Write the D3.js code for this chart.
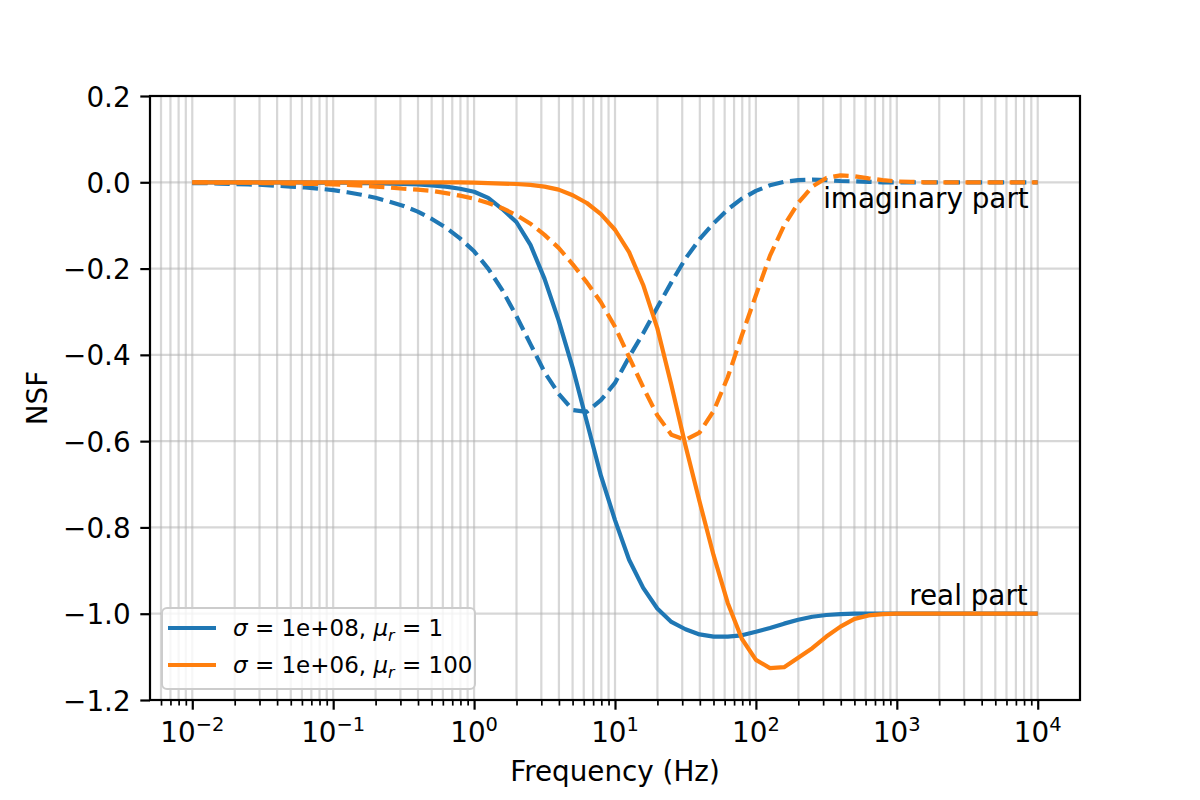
<!DOCTYPE html>
<html>
<head>
<meta charset="utf-8">
<script src="https://cdn.jsdelivr.net/npm/d3@7"></script>
<style>
  body { margin: 0; background: #fff; }
  svg { font-family: "DejaVu Sans", sans-serif; }
</style>
</head>
<body>
<div id="chart"></div>
<script>
// frequency samples, log10(Hz)
const logFreq = [
  -2.0, -1.9, -1.8, -1.7, -1.6, -1.5, -1.4, -1.3, -1.2, -1.1, -1.0,
  -0.9, -0.8, -0.7, -0.6, -0.5, -0.4, -0.3, -0.2, -0.1, 0.0,
  0.1, 0.2, 0.3, 0.4, 0.5, 0.6, 0.7, 0.8, 0.9, 1.0,
  1.1, 1.2, 1.3, 1.4, 1.5, 1.6, 1.7, 1.8, 1.9, 2.0,
  2.1, 2.2, 2.3, 2.4, 2.5, 2.6,
  2.7, 2.8, 2.9, 3.0, 3.1, 3.2, 3.3, 3.4, 3.5, 3.6, 3.7, 3.8, 3.9, 4.0
];

// sigma = 1e8, mu_r = 1
const realA = [
  0, 0, 0, 0, 0, 0, 0, 0, 0, -0.001, -0.001,
  -0.001, -0.002, -0.002, -0.003, -0.004, -0.005, -0.007, -0.01, -0.015, -0.022,
  -0.036, -0.062, -0.092, -0.145, -0.224, -0.32, -0.43, -0.555, -0.68, -0.783,
  -0.875, -0.94, -0.988, -1.019, -1.036, -1.048, -1.053, -1.053, -1.05, -1.042,
  -1.033, -1.023, -1.014, -1.007, -1.003, -1.001,
  -1, -1, -1, -1, -1, -1, -1, -1, -1, -1, -1, -1, -1, -1
];
const imagA = [
  -0.002, -0.002, -0.003, -0.004, -0.005, -0.006, -0.008, -0.01, -0.012, -0.015, -0.018,
  -0.023, -0.029, -0.036, -0.045, -0.055, -0.068, -0.085, -0.105, -0.13, -0.16,
  -0.2, -0.25, -0.31, -0.375, -0.44, -0.49, -0.528, -0.532, -0.505, -0.465,
  -0.405, -0.35, -0.29, -0.232, -0.177, -0.132, -0.095, -0.063, -0.038, -0.02,
  -0.007, 0.001, 0.005, 0.006, 0.005, 0.003,
  0.002, 0.001, 0, 0, 0, 0, 0, 0, 0, 0, 0, 0, 0, 0
];

// sigma = 1e6, mu_r = 100
const realB = [
  0, 0, 0, 0, 0, 0, 0, 0, 0, 0, 0,
  0, 0, 0, 0, 0, 0, 0, 0, 0, -0.001,
  -0.002, -0.003, -0.004, -0.006, -0.01, -0.017, -0.03, -0.048, -0.074, -0.11,
  -0.162, -0.238, -0.338, -0.47, -0.61, -0.74, -0.865, -0.975, -1.058, -1.107,
  -1.126, -1.124, -1.102, -1.08, -1.053, -1.03,
  -1.012, -1.004, -1.001, -1, -1, -1, -1, -1, -1, -1, -1, -1, -1, -1
];
const imagB = [
  0, 0, -0.001, -0.001, -0.001, -0.002, -0.002, -0.003, -0.004, -0.004, -0.005,
  -0.006, -0.008, -0.01, -0.012, -0.015, -0.017, -0.02, -0.025, -0.031, -0.038,
  -0.048, -0.06, -0.076, -0.096, -0.122, -0.152, -0.19, -0.232, -0.278, -0.335,
  -0.405, -0.475, -0.54, -0.585, -0.597, -0.58, -0.53, -0.452, -0.355, -0.262,
  -0.17, -0.1, -0.048, -0.01, 0.01, 0.016,
  0.014, 0.009, 0.005, 0.002, 0.001, 0, 0, 0, 0, 0, 0, 0, 0, 0
];

const legendLabels = [
  { sigma: "1e+08", mu: "1" },
  { sigma: "1e+06", mu: "100" }
];
const xMajorExp = [-2, -1, 0, 1, 2, 3, 4];
const yTicks = [-1.2, -1.0, -0.8, -0.6, -0.4, -0.2, 0.0, 0.2];

const colors = ["#1f77b4", "#ff7f0e"];
const series = [
  { values: realA, color: colors[0], dash: null },
  { values: imagA, color: colors[0], dash: "15.4,6.7" },
  { values: realB, color: colors[1], dash: null },
  { values: imagB, color: colors[1], dash: "15.4,6.7" }
];

(() => {
  const width = 1200, height = 800;
  const margin = { left: 150, right: 120, top: 96, bottom: 100 };
  const fontSize = 27.8;

  const svg = d3.select("#chart").append("svg")
    .attr("width", width)
    .attr("height", height)
    .attr("viewBox", [0, 0, width, height]);
  svg.append("rect").attr("width", width).attr("height", height).attr("fill", "#fff");

  const x = d3.scaleLog()
    .domain([Math.pow(10, -2.3), Math.pow(10, 4.3)])
    .range([margin.left, width - margin.right]);
  const y = d3.scaleLinear()
    .domain([-1.2, 0.2])
    .range([height - margin.bottom, margin.top]);

  const xMajor = xMajorExp.map(e => Math.pow(10, e));
  // minor ticks 2..9 x 10^k that fall inside the domain
  const xMinor = [];
  for (let k = -3; k <= 4; k++) {
    for (let m = 2; m <= 9; m++) {
      const v = m * Math.pow(10, k);
      if (v >= x.domain()[0] && v <= x.domain()[1]) xMinor.push(v);
    }
  }

  // grid
  const grid = svg.append("g").attr("id", "grid")
    .attr("stroke", "#b0b0b0")
    .attr("stroke-opacity", 0.5)
    .attr("stroke-width", 2.2);
  grid.selectAll("line.gx")
    .data(xMajor.concat(xMinor))
    .enter().append("line")
    .attr("class", "gx")
    .attr("x1", d => x(d)).attr("x2", d => x(d))
    .attr("y1", y.range()[0]).attr("y2", y.range()[1]);
  grid.selectAll("line.gy")
    .data(yTicks)
    .enter().append("line")
    .attr("class", "gy")
    .attr("x1", x.range()[0]).attr("x2", x.range()[1])
    .attr("y1", d => y(d)).attr("y2", d => y(d));

  // curves
  const line = d3.line()
    .x((d, i) => x(Math.pow(10, logFreq[i])))
    .y(d => y(d));
  svg.append("g").attr("id", "lines")
    .selectAll("path")
    .data(series)
    .enter().append("path")
    .attr("d", d => line(d.values))
    .attr("fill", "none")
    .attr("stroke", d => d.color)
    .attr("stroke-width", 4.2)
    .attr("stroke-linejoin", "round")
    .attr("stroke-dasharray", d => d.dash);

  // annotations
  svg.append("text")
    .attr("x", x(Math.pow(10, 4)) - 9)
    .attr("y", 208)
    .attr("text-anchor", "end")
    .attr("font-size", fontSize)
    .text("imaginary part");
  svg.append("text")
    .attr("x", x(Math.pow(10, 4)) - 10)
    .attr("y", 605)
    .attr("text-anchor", "end")
    .attr("font-size", fontSize)
    .text("real part");

  // axes
  const xAxisG = svg.append("g")
    .attr("transform", `translate(0,${y.range()[0]})`);
  xAxisG.append("g")
    .call(d3.axisBottom(x).tickValues(xMinor).tickSize(5.6).tickFormat(""))
    .call(g => g.select(".domain").remove())
    .call(g => g.selectAll(".tick line").attr("stroke-width", 1.7));
  xAxisG.append("g")
    .call(d3.axisBottom(x).tickValues(xMajor).tickSize(9.7).tickFormat(""))
    .call(g => g.select(".domain").remove())
    .call(g => g.selectAll(".tick line").attr("stroke-width", 2.2));

  const xLabels = xAxisG.append("g").selectAll("text")
    .data(xMajorExp)
    .enter().append("text")
    .attr("x", d => x(Math.pow(10, d)))
    .attr("y", 42)
    .attr("text-anchor", "middle")
    .attr("font-size", fontSize);
  xLabels.append("tspan").text("10");
  xLabels.append("tspan")
    .attr("font-size", fontSize * 0.7)
    .attr("dy", -11)
    .text(d => d < 0 ? "\u2212" + Math.abs(d) : String(d));

  svg.append("g")
    .attr("transform", `translate(${x.range()[0]},0)`)
    .call(d3.axisLeft(y).tickValues(yTicks).tickSize(9.7).tickPadding(9.7).tickFormat(d3.format(".1f")))
    .call(g => g.select(".domain").remove())
    .call(g => g.selectAll(".tick line").attr("stroke-width", 2.2))
    .call(g => g.selectAll(".tick text")
      .attr("font-size", fontSize)
      .attr("font-family", "DejaVu Sans")
      .attr("fill", "#000")
      .attr("dy", "0.36em"));

  // frame
  svg.append("rect")
    .attr("x", x.range()[0])
    .attr("y", y.range()[1])
    .attr("width", x.range()[1] - x.range()[0])
    .attr("height", y.range()[0] - y.range()[1])
    .attr("fill", "none")
    .attr("stroke", "#000")
    .attr("stroke-width", 2.2);

  // axis titles
  svg.append("text")
    .attr("x", (x.range()[0] + x.range()[1]) / 2)
    .attr("y", 781)
    .attr("text-anchor", "middle")
    .attr("font-size", fontSize)
    .text("Frequency (Hz)");
  svg.append("text")
    .attr("transform", `translate(47,${(y.range()[0] + y.range()[1]) / 2}) rotate(-90)`)
    .attr("text-anchor", "middle")
    .attr("font-size", fontSize)
    .text("NSF");

  // legend
  const legend = svg.append("g").attr("transform", "translate(162,608)");
  legend.append("rect")
    .attr("width", 313)
    .attr("height", 81)
    .attr("rx", 5)
    .attr("fill", "#fff")
    .attr("fill-opacity", 0.8)
    .attr("stroke", "#cccccc")
    .attr("stroke-width", 2);
  const items = legend.selectAll("g.item")
    .data(legendLabels)
    .enter().append("g")
    .attr("class", "item")
    .attr("transform", (d, i) => `translate(0,${20 + i * 37})`);
  items.append("line")
    .attr("x1", 6).attr("x2", 54)
    .attr("stroke", (d, i) => colors[i])
    .attr("stroke-width", 4.2);
  const lt = items.append("text")
    .attr("x", 71)
    .attr("y", 8)
    .attr("font-size", 23);
  lt.append("tspan").attr("font-style", "italic").text("\u03c3");
  lt.append("tspan").text(d => ` = ${d.sigma}, `);
  lt.append("tspan").attr("font-style", "italic").text("\u03bc");
  lt.append("tspan").attr("font-style", "italic").attr("font-size", 16).attr("dy", 5).text("r");
  lt.append("tspan").attr("dy", -5).text(d => ` = ${d.mu}`);
})();
</script>
</body>
</html>
